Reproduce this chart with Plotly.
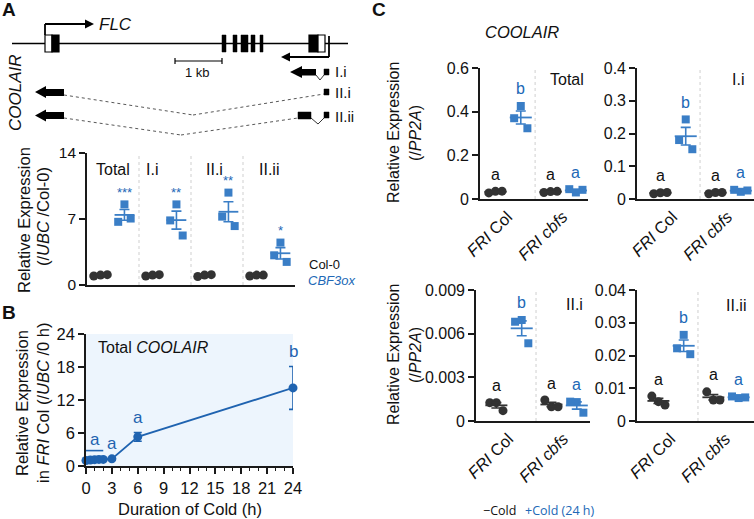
import numpy as np
import plotly.graph_objects as go

W, H = 754, 519
FONT = "Liberation Sans, Arial, sans-serif"
BLUE = "#3a7ec6"
BLUE_LINE = "#2168b6"
BLUE_B = "#1f63b0"
DARK = "#333333"
AX = "#1a1a1a"

# ---------------- data ----------------
# Panel A (relative expression /UBC /Col-0)
a_groups = ["Total", "I.i", "II.i", "II.ii"]
a_col0 = [[0.95, 1.05, 1.10], [0.95, 1.05, 1.10], [0.90, 1.05, 1.10], [0.95, 1.05, 1.05]]
a_cbf3ox = [[8.55, 6.70, 7.05], [8.55, 6.85, 5.25], [9.80, 7.25, 6.25], [4.50, 3.15, 2.45]]
a_stars = ["***", "**", "**", "*"]
a_yticks = [0, 7, 14]

# Panel B (time course, total COOLAIR)
b_hours = [0, 0.5, 1, 1.5, 2, 3, 6, 24]
b_mean = [1.0, 1.1, 1.15, 1.2, 1.2, 1.3, 5.3, 14.2]
b_sem = [0.1, 0.1, 0.1, 0.1, 0.1, 0.15, 0.8, 3.9]
b_xticks = [0, 3, 6, 9, 12, 15, 18, 21, 24]
b_yticks = [0, 6, 12, 18, 24]

# Panel C (relative expression /PP2A); per isoform: [FRI Col, FRI cbfs]
c_genotypes = ["<i>FRI</i> Col", "<i>FRI cbfs</i>"]
c_isoforms = ["Total", "I.i", "II.i", "II.ii"]
c_minus_cold = [
    [[0.028, 0.035, 0.036], [0.030, 0.034, 0.035]],
    [[0.016, 0.019, 0.020], [0.016, 0.020, 0.020]],
    [[0.00126, 0.00126, 0.00071], [0.00144, 0.00098, 0.00098]],
    [[0.0076, 0.0059, 0.0049], [0.0089, 0.0064, 0.0064]],
]
c_plus_cold = [
    [[0.426, 0.370, 0.324], [0.030, 0.045, 0.042]],
    [[0.243, 0.180, 0.152], [0.022, 0.028, 0.026]],
    [[0.00694, 0.00682, 0.00534], [0.00130, 0.00133, 0.00057]],
    [[0.0263, 0.0222, 0.0204], [0.0070, 0.0075, 0.0072]],
]
c_letters_minus = [["a", "a"], ["a", "a"], ["a", "a"], ["a", "a"]]
c_letters_plus = [["b", "a"], ["b", "a"], ["b", "a"], ["b", "a"]]
c_yticks = [[0, 0.2, 0.4, 0.6], [0, 0.1, 0.2, 0.3, 0.4],
            [0, 0.003, 0.006, 0.009], [0, 0.01, 0.02, 0.03, 0.04]]
c_yticktext = [["0", "0.2", "0.4", "0.6"], ["0", "0.1", "0.2", "0.3", "0.4"],
               ["0", "0.003", "0.006", "0.009"], ["0", "0.01", "0.02", "0.03", "0.04"]]


def PX(x):
    return x / W


def PY(y):
    return 1 - y / H


fig = go.Figure()
shapes = []
ann = []

# ---------- axes layout ----------
def xdom(a, b):
    return [PX(a), PX(b)]


def ydom(top, bottom):
    return [PY(bottom), PY(top)]


axis_common = dict(showline=True, linecolor=AX, linewidth=1.6, showgrid=False,
                   zeroline=False, mirror=False, automargin=False)

layout_axes = {}
# A
layout_axes["xaxis"] = dict(domain=xdom(87, 295), range=[0, 4], ticks="", showticklabels=False,
                            anchor="y", **axis_common)
layout_axes["yaxis"] = dict(domain=ydom(153, 285), range=[0, 14], tickvals=a_yticks,
                            ticks="outside", ticklen=6, tickwidth=1.6, tickcolor=AX,
                            tickfont=dict(size=15.5, family=FONT, color="#111"),
                            anchor="x", **axis_common)
# B
layout_axes["xaxis2"] = dict(domain=xdom(86, 293), range=[0, 24], tickvals=b_xticks,
                             ticks="outside", ticklen=6, tickwidth=1.6, tickcolor=AX,
                             minor=dict(dtick=1, ticks="outside", ticklen=3, tickwidth=1.2, tickcolor=AX),
                             tickfont=dict(size=16.5, family=FONT, color="#111"),
                             anchor="y2", **axis_common)
layout_axes["yaxis2"] = dict(domain=ydom(334, 466), range=[0, 24], tickvals=b_yticks,
                             ticks="outside", ticklen=6, tickwidth=1.6, tickcolor=AX,
                             tickfont=dict(size=16.5, family=FONT, color="#111"),
                             anchor="x2", **axis_common)
# C subplots: (x0 px, x1 px, top px, bottom px, x-range)
c_boxes = [
    (480, 588, 68, 199, [0, 1.96]),
    (637, 754, 68, 199, [-0.145, 1.98]),
    (476, 590, 290, 421, [-0.09, 1.98]),
    (637, 754, 290, 421, [-0.11, 2.02]),
]
for i, (x0, x1, t, b, xr) in enumerate(c_boxes):
    n = i + 3
    layout_axes[f"xaxis{n}"] = dict(domain=xdom(x0, x1), range=xr, tickvals=[0.5, 1.5],
                                    ticktext=c_genotypes, tickangle=-45, ticks="",
                                    tickfont=dict(size=16.5, family=FONT, color="#111"),
                                    anchor=f"y{n}", **axis_common)
    layout_axes[f"yaxis{n}"] = dict(domain=ydom(t, b), range=[0, c_yticks[i][-1]],
                                    tickvals=c_yticks[i], ticktext=c_yticktext[i],
                                    ticks="outside", ticklen=6, tickwidth=1.6, tickcolor=AX,
                                    tickfont=dict(size=16, family=FONT, color="#111"),
                                    anchor=f"x{n}", **axis_common)


def add_group(xref, yref, xc, vals, color, symbol, size, offs, half_w=0.2, cap=5):
    vals = np.asarray(vals, float)
    m = vals.mean()
    s = vals.std(ddof=1) / np.sqrt(len(vals))
    fig.add_trace(go.Scatter(x=[xc + o for o in offs], y=vals, mode="markers",
                             marker=dict(symbol=symbol, size=size, color=color, line=dict(width=0)),
                             xaxis=xref, yaxis=yref, showlegend=False, cliponaxis=False,
                             hoverinfo="skip"))
    fig.add_trace(go.Scatter(x=[xc - half_w, xc + half_w], y=[m, m], mode="lines",
                             line=dict(color=color, width=1.8), xaxis=xref, yaxis=yref,
                             showlegend=False, hoverinfo="skip", cliponaxis=False))
    fig.add_trace(go.Scatter(x=[xc], y=[m], mode="markers", marker=dict(size=1, color="rgba(0,0,0,0)"),
                             error_y=dict(type="data", array=[s], visible=True, color=color,
                                          thickness=1.6, width=cap),
                             xaxis=xref, yaxis=yref, showlegend=False, hoverinfo="skip",
                             cliponaxis=False))
    return vals.max(), m + s


# ---------- Panel A chart ----------
offs_black = [-0.13, 0.0, 0.13]
offs_blue = [0.0, -0.12, 0.12]
for g, name in enumerate(a_groups):
    add_group("x", "y", g + 0.26, a_col0[g], DARK, "circle", 9, offs_black, half_w=0.19)
    top, _ = add_group("x", "y", g + 0.72, a_cbf3ox[g], BLUE, "square", 8, offs_blue, half_w=0.19)
    ann.append(dict(x=g + 0.72, y=top, xref="x", yref="y", text=a_stars[g], showarrow=False,
                    yshift=12, font=dict(size=13, color=BLUE_LINE, family=FONT)))
    if g > 0:
        shapes.append(dict(type="line", xref="x", yref="y", x0=g, x1=g, y0=0, y1=14,
                           line=dict(color="#cfcfcf", width=1, dash="dot")))
a_label_x = [0.5, 1.25, 2.46, 3.5]
for g, name in enumerate(a_groups):
    ann.append(dict(x=a_label_x[g], y=12.2, xref="x", yref="y", text=name, showarrow=False,
                    font=dict(size=16, color="#111", family=FONT)))

# legend A
ann.append(dict(x=PX(307), y=PY(264), xref="paper", yref="paper", text="Col-0", showarrow=False,
                xanchor="left", font=dict(size=13, color="#111", family=FONT)))
ann.append(dict(x=PX(306), y=PY(280), xref="paper", yref="paper", text="<i>CBF3ox</i>",
                showarrow=False, xanchor="left", font=dict(size=13, color=BLUE_LINE, family=FONT)))

# y title A
ann.append(dict(x=PX(24), y=PY(220), xref="paper", yref="paper", text="Relative Expression",
                textangle=-90, showarrow=False, font=dict(size=16.5, color="#111", family=FONT)))
ann.append(dict(x=PX(43), y=PY(217), xref="paper", yref="paper", text="(/<i>UBC</i> /Col-0)",
                textangle=-90, showarrow=False, font=dict(size=16.5, color="#111", family=FONT)))

# ---------- Panel B ----------
shapes.append(dict(type="rect", xref="x2", yref="y2", x0=0, x1=24, y0=0, y1=24,
                   fillcolor="#edf5fd", line=dict(width=0), layer="below"))
fig.add_trace(go.Scatter(x=b_hours, y=b_mean, mode="lines+markers",
                         line=dict(color=BLUE_B, width=1.8),
                         marker=dict(size=9, color=BLUE_B),
                         error_y=dict(type="data", array=b_sem, visible=True, color=BLUE_B,
                                      thickness=1.6, width=4),
                         xaxis="x2", yaxis="y2", showlegend=False, cliponaxis=False,
                         hoverinfo="skip"))
bmean = np.array(b_mean)
bsem = np.array(b_sem)
early = [i for i, h in enumerate(b_hours) if h <= 2]
bar_y = (bmean[early] + bsem[early]).max() + 1.5
shapes.append(dict(type="line", xref="x2", yref="y2", x0=b_hours[early[0]], x1=b_hours[early[-1]],
                   y0=bar_y, y1=bar_y, line=dict(color=BLUE_B, width=1.6)))
bfont = dict(size=17, color=BLUE_B, family=FONT)
ann.append(dict(x=np.mean([b_hours[early[0]], b_hours[early[-1]]]), y=bar_y, xref="x2", yref="y2",
                text="a", showarrow=False, yanchor="bottom", yshift=0, font=bfont))
for i, letter in [(5, "a"), (6, "a"), (7, "b")]:
    ann.append(dict(x=b_hours[i], y=b_mean[i] + b_sem[i], xref="x2", yref="y2", text=letter,
                    showarrow=False, yanchor="bottom", yshift=3, font=bfont))
ann.append(dict(x=PX(96), y=PY(347), xref="paper", yref="paper", text="Total <i>COOLAIR</i>",
                xanchor="left", showarrow=False, font=dict(size=16, color="#111", family=FONT)))
ann.append(dict(x=PX(22), y=PY(403), xref="paper", yref="paper", text="Relative Expression",
                textangle=-90, showarrow=False, font=dict(size=16.5, color="#111", family=FONT)))
ann.append(dict(x=PX(43), y=PY(403), xref="paper", yref="paper",
                text="in <i>FRI</i> Col (/<i>UBC</i> /0 h)",
                textangle=-90, showarrow=False, font=dict(size=16.5, color="#111", family=FONT)))
ann.append(dict(x=PX(190), y=PY(509), xref="paper", yref="paper", text="Duration of Cold (h)",
                showarrow=False, font=dict(size=16.5, color="#111", family=FONT)))

# ---------- Panel C ----------
c_label_pos = [(586, 79), (746, 79), (585, 304), (748, 305)]
offs_c_black = [-0.12, 0.0, 0.12]
offs_c_blue = [0.0, -0.12, 0.12]
for i in range(4):
    xr, yr = f"x{i + 3}", f"y{i + 3}"
    for gi in range(2):
        tb, _ = add_group(xr, yr, gi + 0.28, c_minus_cold[i][gi], DARK, "circle", 9, offs_c_black,
                          half_w=0.2)
        tl, _ = add_group(xr, yr, gi + 0.74, c_plus_cold[i][gi], BLUE, "square", 8, offs_c_blue,
                          half_w=0.2)
        ann.append(dict(x=gi + 0.28, y=tb, xref=xr, yref=yr, text=c_letters_minus[i][gi],
                        showarrow=False, yshift=17, font=dict(size=16, color="#111", family=FONT)))
        ann.append(dict(x=gi + 0.74, y=tl, xref=xr, yref=yr, text=c_letters_plus[i][gi],
                        showarrow=False, yshift=17, font=dict(size=16, color=BLUE_LINE, family=FONT)))
    shapes.append(dict(type="line", xref=xr, yref=yr, x0=1, x1=1, y0=0, y1=c_yticks[i][-1],
                       line=dict(color="#cfcfcf", width=1, dash="dot")))
    lx, ly = c_label_pos[i]
    ann.append(dict(x=PX(lx), y=PY(ly), xref="paper", yref="paper", text=c_isoforms[i],
                    xanchor="right", showarrow=False, font=dict(size=16, color="#111", family=FONT)))

for cy in [133, 355]:
    ann.append(dict(x=PX(393), y=PY(cy), xref="paper", yref="paper", text="Relative Expression",
                    textangle=-90, showarrow=False, font=dict(size=16, color="#111", family=FONT)))
    ann.append(dict(x=PX(415), y=PY(cy), xref="paper", yref="paper", text="(/<i>PP2A</i>)",
                    textangle=-90, showarrow=False, font=dict(size=16, color="#111", family=FONT)))

ann.append(dict(x=PX(483), y=PY(32), xref="paper", yref="paper", text="<i>COOLAIR</i>",
                xanchor="left", showarrow=False, font=dict(size=16.5, color="#111", family=FONT)))
ann.append(dict(x=PX(481), y=PY(510), xref="paper", yref="paper", text="\u2212Cold",
                xanchor="left", showarrow=False, font=dict(size=12.5, color="#111", family="Open Sans")))
ann.append(dict(x=PX(523), y=PY(510), xref="paper", yref="paper", text="+Cold (24 h)",
                xanchor="left", showarrow=False, font=dict(size=12.5, color=BLUE_LINE, family="Open Sans")))

# panel letters
for letter, (lx, ly) in [("A", (9, 9)), ("B", (9, 312)), ("C", (379, 10))]:
    ann.append(dict(x=PX(lx), y=PY(ly), xref="paper", yref="paper", text=f"<b>{letter}</b>",
                    showarrow=False, font=dict(size=19, color="#111", family=FONT)))

# ---------- Panel A gene schematic (schematic layout in pixels) ----------
def rect(x0, y0, x1, y1, fill="black", lw=1.2):
    shapes.append(dict(type="rect", xref="paper", yref="paper", x0=PX(x0), x1=PX(x1),
                       y0=PY(y1), y1=PY(y0), fillcolor=fill, line=dict(color="black", width=lw)))


def seg(x0, y0, x1, y1, w=1.5, dash=None, color="black"):
    ln = dict(color=color, width=w)
    if dash:
        ln["dash"] = dash
    shapes.append(dict(type="line", xref="paper", yref="paper", x0=PX(x0), x1=PX(x1),
                       y0=PY(y0), y1=PY(y1), line=ln))


def poly(pts, fill="black"):
    path = "M " + " L ".join(f"{PX(x)},{PY(y)}" for x, y in pts) + " Z"
    shapes.append(dict(type="path", xref="paper", yref="paper", path=path, fillcolor=fill,
                       line=dict(width=0)))


# genomic line
seg(12, 43.5, 348, 43.5, w=1.5)
# FLC first exon (white UTR + black CDS)
rect(45, 35, 52, 52, fill="white")
rect(52, 35, 59, 52, fill="black")
# FLC exons
for x0, x1 in [(222, 226), (233, 237), (241, 248), (251, 255), (260, 263)]:
    rect(x0, 35, x1, 52, fill="black", lw=0.5)
# last exon
rect(309, 35, 318, 52, fill="black")
rect(318, 35, 325, 52, fill="white")
# FLC sense arrow
seg(45, 35, 45, 24, w=1.8)
seg(45, 24, 86, 24, w=1.8)
poly([(85, 19.5), (94, 24), (85, 28.5)])
# COOLAIR antisense arrow
seg(329, 36, 329, 57, w=1.8)
seg(329, 57, 289, 57, w=1.8)
poly([(290, 52.5), (281, 57), (290, 61.5)])
# scale bar
seg(175, 61, 222, 61, w=1.2)
seg(175, 58, 175, 64, w=1.2)
seg(222, 58, 222, 64, w=1.2)
ann.append(dict(x=PX(198), y=PY(73), xref="paper", yref="paper", text="1 kb", showarrow=False,
                font=dict(size=13, color="#111", family=FONT)))
ann.append(dict(x=PX(97), y=PY(25), xref="paper", yref="paper", text="<i>FLC</i>", showarrow=False,
                xanchor="left", font=dict(size=17, color="#111", family=FONT)))
ann.append(dict(x=PX(16), y=PY(93), xref="paper", yref="paper", text="<i>COOLAIR</i>",
                textangle=-90, showarrow=False, font=dict(size=17, color="#111", family=FONT)))

# I.i
poly([(290, 72), (302, 66), (302, 69), (316, 69), (316, 75.5), (302, 75.5), (302, 78)])
seg(316, 75, 320, 80, w=0.8)
seg(320, 80, 324, 75, w=0.8)
rect(324, 69, 329, 75, fill="black", lw=0.5)
# II.i
poly([(35, 92), (46, 86), (46, 89), (64, 89), (64, 96), (46, 96), (46, 98)])
seg(64, 95, 193, 115, w=0.9, dash="dot", color="#444")
seg(193, 115, 324, 94, w=0.9, dash="dot", color="#444")
rect(324, 89, 329, 95, fill="black", lw=0.5)
# II.ii
poly([(35, 115.5), (46, 109.5), (46, 112), (64, 112), (64, 119), (46, 119), (46, 121.5)])
seg(64, 118, 181, 135, w=0.9, dash="dot", color="#444")
seg(181, 135, 298, 118, w=0.9, dash="dot", color="#444")
rect(298, 112, 311, 119, fill="black", lw=0.5)
seg(311, 118, 318, 124, w=0.8)
seg(318, 124, 324, 118, w=0.8)
rect(324, 112, 329, 118, fill="black", lw=0.5)
for txt, y in [("I.i", 72), ("II.i", 92), ("II.ii", 116)]:
    ann.append(dict(x=PX(333), y=PY(y), xref="paper", yref="paper", text=txt, showarrow=False,
                    xanchor="left", font=dict(size=15, color="#111", family=FONT)))

for a in ann:
    a.setdefault("xanchor", "center")
    a.setdefault("yanchor", "middle")

fig.update_layout(width=W, height=H, margin=dict(l=0, r=0, t=0, b=0, pad=0, autoexpand=False),
                  paper_bgcolor="white", plot_bgcolor="rgba(0,0,0,0)",
                  font=dict(family=FONT, color="#111"), showlegend=False,
                  shapes=shapes, annotations=ann, **layout_axes)
fig.write_html("out.html", config={"displayModeBar": False},
               post_script="document.body.style.margin='0';document.body.style.padding='0';"
                           "document.body.style.overflow='hidden';")
